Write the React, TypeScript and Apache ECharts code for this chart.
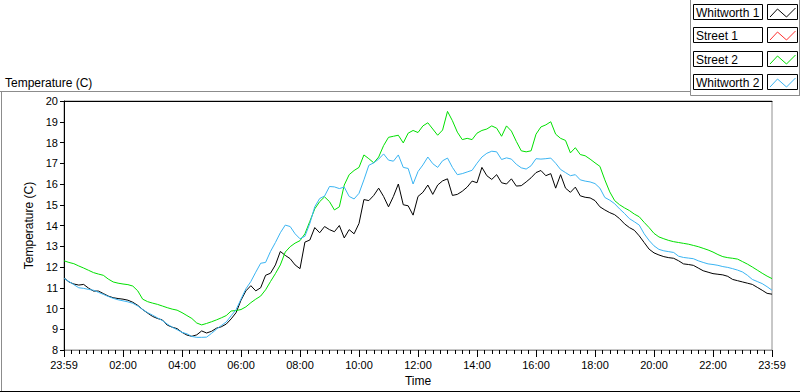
import React, { useEffect, useRef } from "react";
import * as echarts from "echarts";

const FONT = "'Liberation Sans', Arial, sans-serif";

const SERIES_NAMES = ["Whitworth 1", "Street 1", "Street 2", "Whitworth 2"];
const SERIES_COLORS = ["#000000", "#ff3030", "#00e000", "#3ab4f2"];

// x axis: minutes after the 23:59 start, one sample every 10 minutes
const SAMPLE_MIN = 10;
const X_LABELS = ["23:59", "02:00", "04:00", "06:00", "08:00", "10:00", "12:00", "14:00", "16:00", "18:00", "20:00", "22:00", "23:59"];
const Y_MIN = 8;
const Y_MAX = 20;

const WHITWORTH_1 = [
  11.48, 11.28, 11.18, 11.13, 11.16, 10.98, 10.84, 10.84, 10.72, 10.6,
  10.52, 10.48, 10.45, 10.4, 10.3, 10.15, 9.95, 9.78, 9.62, 9.52,
  9.45, 9.2, 9.1, 9.03, 8.85, 8.72, 8.66, 8.73, 8.92, 8.82,
  8.9, 9.05, 9.12, 9.25, 9.5, 9.8, 10.4, 10.85, 11.1, 10.85,
  11.0, 11.6, 11.7, 12.1, 12.75, 12.56, 12.4, 12.1, 11.92, 13.2,
  13.3, 13.9, 13.65, 13.95, 13.8, 13.7, 14.0, 13.4, 13.8, 13.6,
  14.1, 15.25, 15.2, 15.45, 15.8, 15.4, 14.9, 15.4, 16.0, 15.0,
  14.95, 14.5, 15.4, 15.6, 15.95, 15.5, 15.95, 16.15, 16.25, 15.45,
  15.5, 15.65, 15.85, 16.14, 16.06, 16.8, 16.4, 16.22, 16.45, 16.06,
  16.0, 16.25, 15.9, 15.92, 16.1, 16.3, 16.55, 16.65, 16.4, 16.5,
  15.8, 16.45, 15.8, 15.6, 15.85, 15.43, 15.36, 15.33, 15.2, 14.9,
  14.75, 14.62, 14.52, 14.33, 14.08, 13.9, 13.77, 13.5, 13.18, 12.86,
  12.68, 12.58, 12.5, 12.45, 12.42, 12.3, 12.15, 12.12, 12.08, 11.95,
  11.82, 11.75, 11.68, 11.65, 11.62, 11.55, 11.4, 11.34, 11.28, 11.22,
  11.16, 11.02, 10.88, 10.73, 10.69,
];

const STREET_1: number[] = [];

const STREET_2 = [
  12.3, 12.22, 12.16, 12.05, 11.95, 11.84, 11.73, 11.66, 11.6, 11.42,
  11.28, 11.22, 11.18, 11.15, 11.08, 10.85, 10.45, 10.33, 10.26, 10.2,
  10.12, 10.04, 9.97, 9.92, 9.8, 9.66, 9.52, 9.3, 9.21, 9.28,
  9.36, 9.45, 9.55, 9.66, 9.88, 9.9, 9.95, 10.08, 10.28, 10.45,
  10.6, 10.9, 11.3, 11.68, 12.1, 12.72, 12.98, 13.15, 13.27, 13.6,
  14.2, 14.8, 15.15, 15.38, 15.15, 14.75, 14.9, 15.95, 16.45, 16.65,
  16.8, 17.4, 17.22, 17.02, 17.3, 17.85, 18.25, 18.3, 18.35, 17.98,
  18.45, 18.58, 18.48, 18.8, 18.95, 18.65, 18.35, 18.6, 19.5, 19.05,
  18.5, 18.14, 18.2, 18.14, 18.45, 18.58, 18.65, 18.8, 18.69, 18.3,
  18.8, 18.55, 18.05, 17.6, 17.55, 17.6, 18.4, 18.75, 18.85, 19.0,
  18.4, 18.2, 18.1, 17.5, 17.75, 17.42, 17.36, 17.2, 17.02, 16.85,
  16.2, 15.62, 15.2, 15.0, 14.85, 14.72, 14.55, 14.42, 14.15, 13.9,
  13.62, 13.45, 13.36, 13.28, 13.22, 13.18, 13.14, 13.1, 13.04, 12.98,
  12.9, 12.82, 12.72, 12.6, 12.5, 12.45, 12.42, 12.38, 12.26, 12.14,
  12.0, 11.85, 11.7, 11.56, 11.44,
];

const WHITWORTH_2 = [
  11.45, 11.3, 11.15, 11.0, 10.97, 10.92, 10.88, 10.78, 10.68, 10.58,
  10.49, 10.42, 10.37, 10.32, 10.25, 10.12, 9.95, 9.8, 9.68, 9.55,
  9.42, 9.25, 9.1, 8.98, 8.85, 8.78, 8.65, 8.61, 8.61, 8.62,
  8.8, 9.0, 9.18, 9.35, 9.65, 9.95, 10.45, 10.95, 11.3, 11.75,
  12.18, 12.22, 12.75, 13.18, 13.65, 14.02, 13.95, 13.6, 13.36, 13.48,
  14.1, 14.9, 15.3, 15.42, 15.88, 15.86, 15.78, 15.85, 15.4, 15.28,
  15.55, 16.2, 16.9, 17.02, 17.2, 17.45, 17.15, 17.1, 17.4, 16.8,
  16.75, 16.0, 16.6, 16.92, 17.3, 16.98, 16.8, 17.12, 17.25, 16.8,
  16.45, 16.5, 16.58, 16.66, 17.0, 17.3, 17.48, 17.58, 17.55, 17.18,
  17.26, 17.2, 16.95, 16.78, 16.72, 16.88, 17.22, 17.2, 17.22, 17.25,
  17.0, 16.7, 16.55, 16.4, 16.45, 16.2, 16.14, 16.1, 16.02, 15.8,
  15.35, 15.22, 15.05, 14.8, 14.58, 14.33, 14.18, 14.02, 13.6, 13.28,
  13.02, 12.85, 12.78, 12.74, 12.7, 12.52, 12.46, 12.43, 12.4, 12.3,
  12.22, 12.15, 12.12, 12.08, 12.02, 11.98, 11.92, 11.85, 11.76, 11.6,
  11.4, 11.3, 11.2, 11.05, 10.88,
];

const SERIES_DATA = [WHITWORTH_1, STREET_1, STREET_2, WHITWORTH_2];

export default function App() {
  const ref = useRef<HTMLDivElement>(null);

  useEffect(() => {
    if (!ref.current) return;
    const chart = echarts.init(ref.current, null, { renderer: "svg" });

    const toPairs = (arr: number[]) => arr.map((v, i) => [i * SAMPLE_MIN, v]);

    const legendEls: any[] = [];
    const LEGEND_TOPS = [4, 27, 51, 74];
    SERIES_NAMES.forEach((name, i) => {
      const top = LEGEND_TOPS[i];
      legendEls.push({
        type: "rect",
        shape: { x: 693.5, y: top + 0.5, width: 69, height: 15 },
        style: { fill: "#ffffff", stroke: "#000000", lineWidth: 1 },
      });
      legendEls.push({
        type: "text",
        x: 696,
        y: top + 8.5,
        style: { text: name, fontSize: 12, fontFamily: FONT, fill: "#000000", verticalAlign: "middle", align: "left" },
      });
      legendEls.push({
        type: "rect",
        shape: { x: 767.5, y: top + 0.5, width: 30, height: 15 },
        style: { fill: "#ffffff", stroke: "#000000", lineWidth: 1 },
      });
      legendEls.push({
        type: "polyline",
        shape: {
          points: [
            [770, top + 13],
            [777.5, top + 5],
            [786.5, top + 13],
            [795.5, top + 4],
          ],
        },
        style: { stroke: SERIES_COLORS[i], fill: "none", lineWidth: 1 },
      });
    });

    const FRAME = "#8c8c8c";
    const frameEls = [
      { type: "line", shape: { x1: 0, y1: 91.5, x2: 690.5, y2: 91.5 }, style: { stroke: FRAME, lineWidth: 1 } },
      { type: "line", shape: { x1: 1.5, y1: 91.5, x2: 1.5, y2: 392 }, style: { stroke: FRAME, lineWidth: 1 } },
      { type: "line", shape: { x1: 0, y1: 391.5, x2: 800, y2: 391.5 }, style: { stroke: "#000000", lineWidth: 1 } },
      { type: "line", shape: { x1: 690.5, y1: 0, x2: 690.5, y2: 95.5 }, style: { stroke: FRAME, lineWidth: 1 } },
      { type: "line", shape: { x1: 690.5, y1: 95.5, x2: 800, y2: 95.5 }, style: { stroke: FRAME, lineWidth: 1 } },
      { type: "line", shape: { x1: 799.5, y1: 0, x2: 799.5, y2: 95.5 }, style: { stroke: FRAME, lineWidth: 1 } },
      {
        type: "text",
        x: 5,
        y: 83,
        style: { text: "Temperature (C)", fontSize: 12, fontFamily: FONT, fill: "#000000", verticalAlign: "middle" },
      },
    ];

    chart.setOption({
      animation: false,
      backgroundColor: "#ffffff",
      textStyle: { fontFamily: FONT },
      grid: {
        left: 64,
        top: 101,
        width: 708,
        height: 251,
        show: true,
        borderColor: "#909090",
        borderWidth: 1,
        backgroundColor: "#ffffff",
      },
      xAxis: [
        {
          type: "value",
          min: 0,
          max: 1440,
          interval: 120,
          position: "bottom",
          name: "Time",
          nameLocation: "middle",
          nameGap: 25,
          nameTextStyle: { fontSize: 12, color: "#000000", fontFamily: FONT },
          axisLine: { show: true, lineStyle: { color: "#909090", width: 1 } },
          axisTick: { show: true, length: 7, lineStyle: { color: "#000000", width: 1 } },
          minorTick: { show: true, splitNumber: 8, length: 4, lineStyle: { color: "#000000", width: 1 } },
          axisLabel: {
            fontSize: 11,
            color: "#000000",
            margin: 9,
            fontFamily: FONT,
            showMinLabel: true,
            showMaxLabel: true,
            formatter: (v: number) => X_LABELS[Math.round(v / 120)] ?? "",
          },
          splitLine: { show: false },
          minorSplitLine: { show: false },
        },
        {
          type: "value",
          min: 0,
          max: 1440,
          position: "top",
          axisLine: { show: true, lineStyle: { color: "#000000", width: 1 } },
          axisTick: { show: false },
          axisLabel: { show: false },
          splitLine: { show: false },
        },
      ],
      yAxis: {
        type: "value",
        min: Y_MIN,
        max: Y_MAX,
        interval: 1,
        name: "Temperature (C)",
        nameLocation: "middle",
        nameGap: 27,
        nameTextStyle: { fontSize: 12, color: "#000000", fontFamily: FONT },
        axisLine: { show: true, lineStyle: { color: "#000000", width: 1 } },
        axisTick: { show: true, length: 4, lineStyle: { color: "#000000", width: 1 } },
        axisLabel: { fontSize: 11, color: "#000000", margin: 6, fontFamily: FONT },
        splitLine: { show: false },
      },
      series: SERIES_NAMES.map((name, i) => ({
        name,
        type: "line",
        xAxisIndex: 0,
        data: toPairs(SERIES_DATA[i]),
        showSymbol: false,
        symbol: "none",
        lineStyle: { color: SERIES_COLORS[i], width: 1 },
        itemStyle: { color: SERIES_COLORS[i] },
      })),
      graphic: [...frameEls, ...legendEls],
    });

    return () => chart.dispose();
  }, []);

  return (
    <div
      ref={ref}
      style={{ position: "fixed", left: 0, top: 0, width: 800, height: 392, background: "#ffffff" }}
    />
  );
}
